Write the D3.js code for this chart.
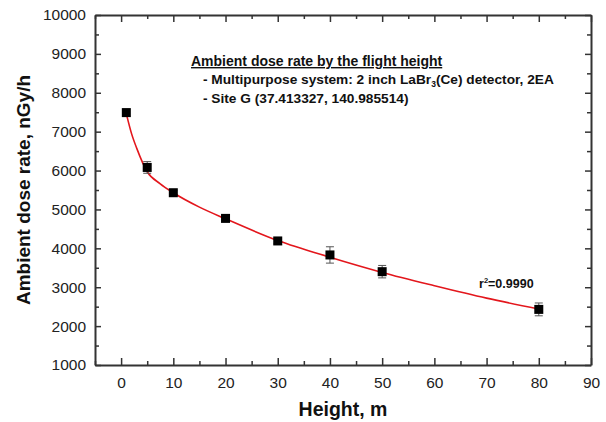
<!DOCTYPE html>
<html>
<head>
<meta charset="utf-8">
<script src="https://cdn.jsdelivr.net/npm/d3@7"></script>
<style>
  body { margin: 0; background: #fff; }
  text { font-family: "Liberation Sans", Arial, sans-serif; }
</style>
</head>
<body>
<div id="chart"></div>
<script>
// measured points
const heights = [1, 5, 10, 20, 30, 40, 50, 80];
const doseRates = [7490, 6080, 5430, 4770, 4190, 3830, 3400, 2430];
const doseErrors = [90, 150, 60, 60, 70, 210, 160, 165];

// fitted curve
const fitHeights = [1, 2, 3, 5, 7.5, 10, 15, 20, 30, 40, 50, 60, 70, 80];
const fitRates = [7460, 6950, 6570, 5970, 5660, 5430, 5060, 4760, 4200, 3770, 3380, 3040, 2720, 2440];

const xTicks = [0, 10, 20, 30, 40, 50, 60, 70, 80, 90];
const yTicks = [1000, 2000, 3000, 4000, 5000, 6000, 7000, 8000, 9000, 10000];

const width = 606,
  height = 422;
const margin = { top: 15, right: 15, bottom: 57, left: 95 };

const svg = d3
  .select("#chart")
  .append("svg")
  .attr("width", width)
  .attr("height", height);

const x = d3.scaleLinear().domain([-5, 90]).range([margin.left, width - margin.right]);
const y = d3.scaleLinear().domain([1000, 10000]).range([height - margin.bottom, margin.top]);

const axisColor = "#333";
const minorX = d3.range(-5, 91, 5).filter((d) => !xTicks.includes(d));
const minorY = d3.range(1500, 10000, 1000);

// axes with inward ticks, mirrored on top and right
function styleAxis(g) {
  g.select(".domain").attr("stroke", axisColor).attr("stroke-width", 2);
  g.selectAll(".tick line").attr("stroke", axisColor).attr("stroke-width", 1.5);
}

svg
  .append("g")
  .attr("transform", `translate(0,${y(1000)})`)
  .call(d3.axisBottom(x).tickValues(xTicks).tickFormat(d3.format("d")).tickSizeInner(-7).tickSizeOuter(0).tickPadding(12))
  .call(styleAxis)
  .selectAll("text")
  .style("font-size", "15.5px")
  .attr("fill", "#222");

svg
  .append("g")
  .attr("transform", `translate(0,${y(1000)})`)
  .call(d3.axisBottom(x).tickValues(minorX).tickSize(-4).tickFormat(""))
  .call(styleAxis)
  .select(".domain")
  .remove();

svg
  .append("g")
  .attr("transform", `translate(0,${y(10000)})`)
  .call(d3.axisTop(x).tickValues(xTicks).tickSizeInner(-7).tickSizeOuter(0).tickFormat(""))
  .call(styleAxis);

svg
  .append("g")
  .attr("transform", `translate(0,${y(10000)})`)
  .call(d3.axisTop(x).tickValues(minorX).tickSize(-4).tickFormat(""))
  .call(styleAxis)
  .select(".domain")
  .remove();

svg
  .append("g")
  .attr("transform", `translate(${x(-5)},0)`)
  .call(d3.axisLeft(y).tickValues(yTicks).tickFormat(d3.format("d")).tickSizeInner(-6).tickSizeOuter(0).tickPadding(9))
  .call(styleAxis)
  .selectAll("text")
  .style("font-size", "15.5px")
  .attr("fill", "#222");

svg
  .append("g")
  .attr("transform", `translate(${x(-5)},0)`)
  .call(d3.axisLeft(y).tickValues(minorY).tickSize(-4).tickFormat(""))
  .call(styleAxis)
  .select(".domain")
  .remove();

svg
  .append("g")
  .attr("transform", `translate(${x(90)},0)`)
  .call(d3.axisRight(y).tickValues(yTicks).tickSizeInner(-6).tickSizeOuter(0).tickFormat(""))
  .call(styleAxis);

svg
  .append("g")
  .attr("transform", `translate(${x(90)},0)`)
  .call(d3.axisRight(y).tickValues(minorY).tickSize(-4).tickFormat(""))
  .call(styleAxis)
  .select(".domain")
  .remove();

// axis titles
svg
  .append("text")
  .attr("x", (x(-5) + x(90)) / 2)
  .attr("y", 416)
  .attr("text-anchor", "middle")
  .style("font-size", "19.5px")
  .style("font-weight", "bold")
  .attr("fill", "#111")
  .text("Height, m");

svg
  .append("text")
  .attr("transform", `translate(30,${(y(1000) + y(10000)) / 2}) rotate(-90)`)
  .attr("text-anchor", "middle")
  .style("font-size", "19px")
  .style("font-weight", "bold")
  .attr("fill", "#111")
  .text("Ambient dose rate, nGy/h");

// fit curve
const fitData = fitHeights.map((h, i) => ({ h: h, v: fitRates[i] }));
svg
  .append("path")
  .datum(fitData)
  .attr("fill", "none")
  .attr("stroke", "#e3161c")
  .attr("stroke-width", 1.6)
  .attr("d", d3.line().x((d) => x(d.h)).y((d) => y(d.v)).curve(d3.curveMonotoneX));

// error bars and points
const pts = heights.map((h, i) => ({ h: h, v: doseRates[i], e: doseErrors[i] }));
const eb = svg.append("g").attr("stroke", "#555").attr("stroke-width", 1);
pts.forEach((d) => {
  eb.append("line").attr("x1", x(d.h)).attr("x2", x(d.h)).attr("y1", y(d.v - d.e)).attr("y2", y(d.v + d.e));
  eb.append("line").attr("x1", x(d.h) - 4).attr("x2", x(d.h) + 4).attr("y1", y(d.v - d.e)).attr("y2", y(d.v - d.e));
  eb.append("line").attr("x1", x(d.h) - 4).attr("x2", x(d.h) + 4).attr("y1", y(d.v + d.e)).attr("y2", y(d.v + d.e));
});

svg
  .selectAll(".pt")
  .data(pts)
  .enter()
  .append("rect")
  .attr("class", "pt")
  .attr("x", (d) => x(d.h) - 4.5)
  .attr("y", (d) => y(d.v) - 4.5)
  .attr("width", 9)
  .attr("height", 9)
  .attr("fill", "#000");

// annotation block
const note = svg.append("g").style("font-weight", "bold").attr("fill", "#111");
note
  .append("text")
  .attr("x", 191)
  .attr("y", 66)
  .style("font-size", "14px")
  .style("text-decoration", "underline")
  .text("Ambient dose rate by the flight height");

const line2 = note.append("text").attr("x", 203).attr("y", 84).style("font-size", "13.7px");
line2.append("tspan").text("- Multipurpose system: 2 inch LaBr");
line2.append("tspan").attr("dy", 3).style("font-size", "8.5px").text("3");
line2.append("tspan").attr("dy", -3).text("(Ce) detector, 2EA");

note
  .append("text")
  .attr("x", 203)
  .attr("y", 103)
  .style("font-size", "13.7px")
  .text("- Site G (37.413327, 140.985514)");

const r2 = svg
  .append("text")
  .attr("x", 479)
  .attr("y", 288)
  .style("font-size", "12.5px")
  .style("font-weight", "bold")
  .attr("fill", "#111");
r2.append("tspan").text("r");
r2.append("tspan").attr("dy", -5).style("font-size", "7.5px").text("2");
r2.append("tspan").attr("dy", 5).text("=0.9990");
</script>
</body>
</html>
